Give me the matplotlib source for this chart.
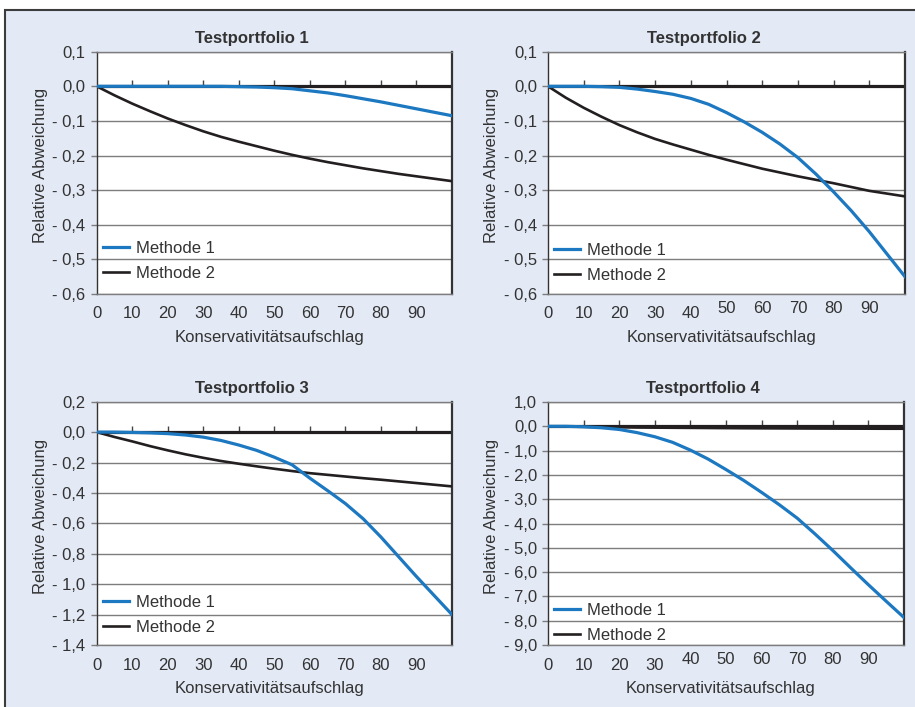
import matplotlib
matplotlib.use("Agg")
import matplotlib.pyplot as plt
import matplotlib.patches as patches
import matplotlib.transforms as mtransforms

plt.rcParams['font.family'] = ['Liberation Sans', 'DejaVu Sans']

x = [0, 5, 10, 15, 20, 25, 30, 35, 40, 45, 50, 55, 60, 65, 70, 75, 80, 85, 90, 95, 100]

p1_m1 = [0, 0, 0, 0, 0, 0, 0, 0, -0.001, -0.002, -0.004, -0.007, -0.013, -0.019, -0.027,
         -0.036, -0.045, -0.055, -0.065, -0.075, -0.085]
p1_m2 = [0, -0.026, -0.05, -0.072, -0.093, -0.112, -0.13, -0.146, -0.16, -0.173, -0.186,
         -0.198, -0.209, -0.219, -0.228, -0.237, -0.245, -0.253, -0.26, -0.267, -0.274]

p2_m1 = [0, 0, 0, -0.001, -0.003, -0.008, -0.015, -0.023, -0.035, -0.052, -0.076, -0.103,
         -0.133, -0.167, -0.206, -0.253, -0.305, -0.36, -0.42, -0.485, -0.55]
p2_m2 = [0, -0.033, -0.062, -0.088, -0.112, -0.133, -0.152, -0.168, -0.183, -0.198, -0.212,
         -0.225, -0.238, -0.249, -0.26, -0.27, -0.28, -0.291, -0.302, -0.31, -0.318]

p3_m1 = [0, 0, -0.002, -0.005, -0.01, -0.019, -0.033, -0.055, -0.085, -0.12, -0.165, -0.215,
         -0.303, -0.385, -0.47, -0.57, -0.69, -0.82, -0.95, -1.075, -1.2]
p3_m2 = [0, -0.032, -0.061, -0.092, -0.12, -0.146, -0.169, -0.19, -0.208, -0.225, -0.241,
         -0.256, -0.27, -0.281, -0.292, -0.303, -0.313, -0.324, -0.335, -0.346, -0.357]

p4_m1 = [0, 0, -0.02, -0.06, -0.13, -0.26, -0.43, -0.66, -0.98, -1.35, -1.78, -2.23, -2.72,
         -3.23, -3.78, -4.43, -5.11, -5.82, -6.52, -7.2, -7.87]
p4_m2 = [0, -0.01, -0.02, -0.03, -0.04, -0.05, -0.055, -0.06, -0.065, -0.07, -0.075, -0.08,
         -0.083, -0.086, -0.089, -0.092, -0.094, -0.096, -0.098, -0.1, -0.1]

titles = ["Testportfolio 1", "Testportfolio 2", "Testportfolio 3", "Testportfolio 4"]
series = [(p1_m1, p1_m2), (p2_m1, p2_m2), (p3_m1, p3_m2), (p4_m1, p4_m2)]
y_ticks = [
    [0.1, 0.0, -0.1, -0.2, -0.3, -0.4, -0.5, -0.6],
    [0.1, 0.0, -0.1, -0.2, -0.3, -0.4, -0.5, -0.6],
    [0.2, 0.0, -0.2, -0.4, -0.6, -0.8, -1.0, -1.2, -1.4],
    [1.0, 0.0, -1.0, -2.0, -3.0, -4.0, -5.0, -6.0, -7.0, -8.0, -9.0],
]
x_ticks = [0, 10, 20, 30, 40, 50, 60, 70, 80, 90]
# from this tick on the labels sit a bit higher (quirk of the original layout)
raised_from = [None, 50, None, 40]

legend_labels = ["Methode 1", "Methode 2"]
blue = "#1c78c0"
black = "#231f20"
grid_col = "#7d7d7d"
txt_col = "#333333"

W, H = 915, 707
fig = plt.figure(figsize=(W / 100, H / 100), dpi=100)
fig.patch.set_facecolor("white")

bg = patches.Rectangle((5 / W, -0.01), 1.0, 1 - 10 / H + 0.01, transform=fig.transFigure,
                       facecolor="#e3e9f5", edgecolor="#3c3c3c", linewidth=1.5, zorder=-5)
fig.patches.append(bg)

boxes = [
    (96.7, 51.7, 452, 294),
    (548, 51.7, 905, 294),
    (96.7, 401.7, 452, 645),
    (548, 402, 904, 645),
]
legend_y = [0.027, 0.019, 0.015, -0.018]


def fmt(v):
    s = ("%.1f" % abs(v)).replace(".", ",")
    if v < -1e-9:
        return "- " + s
    return s


for i, (l, t, r, b) in enumerate(boxes):
    ax = fig.add_axes([l / W, 1 - b / H, (r - l) / W, (b - t) / H])
    ax.set_facecolor("white")
    m1, m2 = series[i]
    yt = y_ticks[i]
    ymin, ymax = yt[-1], yt[0]

    ax.axhline(0, color=black, lw=2.3, zorder=2)
    ax.plot(x, m2, color=black, lw=1.9, zorder=3, label=legend_labels[1])
    ax.plot(x, m1, color=blue, lw=2.3, zorder=4, label=legend_labels[0])

    ax.set_xlim(0, 100)
    ax.set_ylim(ymin, ymax)
    ax.set_yticks(yt)
    ax.set_yticklabels([fmt(v) for v in yt])
    ax.yaxis.grid(True, color=grid_col, lw=1.0)
    ax.set_axisbelow(True)

    ax.set_xticks(x_ticks)
    ax.set_xticklabels([str(v) for v in x_ticks])
    ax.tick_params(axis="x", length=0, pad=9, labelsize=12, labelcolor=txt_col)
    ax.tick_params(axis="y", length=4, width=1, color=grid_col, pad=4, labelsize=12,
                   labelcolor=txt_col)
    if raised_from[i] is not None:
        shift = mtransforms.ScaledTranslation(0, 5 / 100, fig.dpi_scale_trans)
        for v, lab in zip(x_ticks, ax.get_xticklabels()):
            if v >= raised_from[i]:
                lab.set_transform(lab.get_transform() + shift)

    for side in ["left", "top", "bottom"]:
        ax.spines[side].set_color(grid_col)
        ax.spines[side].set_linewidth(1.0)
    ax.spines["left"].set_color("#333333")
    ax.spines["right"].set_color("#333333")
    ax.spines["right"].set_linewidth(1.6)

    # tick marks sitting on the zero line
    zpos = (0 - ymin) / (ymax - ymin)
    sec = ax.secondary_xaxis(zpos)
    sec.set_xticks(x_ticks[1:])
    sec.tick_params(direction="out", length=4, width=1, color="#444444",
                    labeltop=False, labelbottom=False)
    for sp in sec.spines.values():
        sp.set_visible(False)

    ax.text(0.436, 1 + 13 / (b - t), titles[i], transform=ax.transAxes, ha="center",
            va="center", fontsize=12, fontweight="bold", color=txt_col)

    ax.set_xlabel("Konservativitätsaufschlag", fontsize=12, color=txt_col)
    ax.xaxis.label.set_va("center")
    ax.xaxis.set_label_coords(0.485, -44 / (b - t))
    ax.set_ylabel("Relative Abweichung", fontsize=12, color=txt_col)
    ax.yaxis.label.set_va("center")
    ax.yaxis.set_label_coords(-0.158, 0.53)

    h, lbl = ax.get_legend_handles_labels()
    ax.legend(h[::-1], lbl[::-1], loc="lower left", bbox_to_anchor=(0.0, legend_y[i]),
              frameon=False, fontsize=12, handlelength=1.56, handletextpad=0.42,
              labelspacing=0.63, borderpad=0.2, borderaxespad=0.18, labelcolor=txt_col)

fig.savefig("out.png", dpi=100)
